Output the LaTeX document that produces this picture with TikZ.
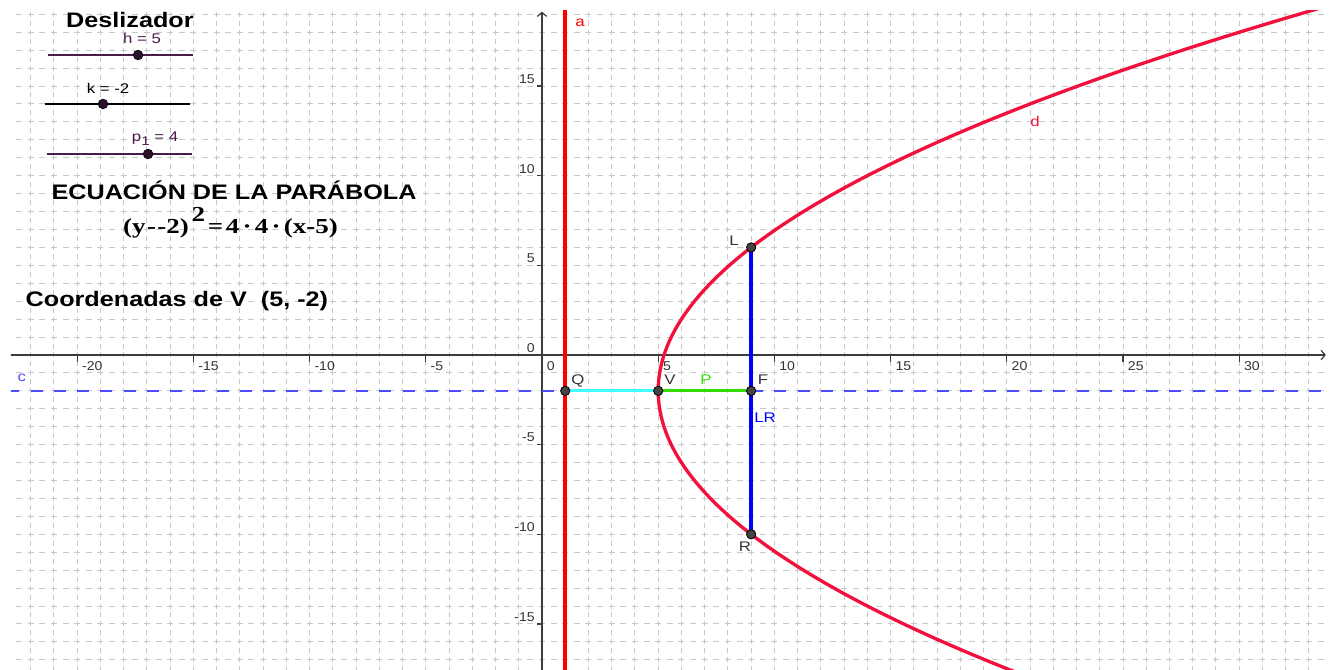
\documentclass[tikz,border=0pt]{standalone}
\usepackage{fontspec}
\setmainfont{Liberation Sans}
\newfontfamily\eqfont{Liberation Serif}
\usetikzlibrary{arrows.meta}
\definecolor{gridgray}{HTML}{C8C8C8}
\definecolor{axisgray}{HTML}{3C3C3C}
\definecolor{labelgray}{HTML}{333333}
\definecolor{pointgray}{HTML}{444444}
\definecolor{linered}{HTML}{FF0000}
\definecolor{curvered}{HTML}{F2103C}
\definecolor{dirblue}{HTML}{4D4DFF}
\definecolor{lrblue}{HTML}{0000FF}
\definecolor{segcyan}{HTML}{40FFFF}
\definecolor{seggreen}{HTML}{33DD00}
\definecolor{slidepurple}{HTML}{4A1A4A}
\newcommand{\wtext}[2][1.2]{\scalebox{#1}[1]{#2}}

\begin{document}
\begin{tikzpicture}[x=17.43pt,y=13.4475pt,every node/.style={inner sep=0pt},
  ticklab/.style={text=labelgray,font=\fontsize{9.6}{11}\selectfont},
  ptlab/.style={text=labelgray,anchor=base,font=\fontsize{10.5}{12}\selectfont},
  slidelab/.style={anchor=base,font=\fontsize{10.5}{12}\selectfont},
  title/.style={anchor=base,font=\fontsize{15.75}{18}\selectfont\bfseries},
  pt/.style={fill=pointgray,draw=black,line width=.6pt},
  gridline/.style={gridgray,line width=.75pt},
  axis/.style={axisgray,line width=.9pt}]
\useasboundingbox (-23.322,-17.513) rectangle (33.864,19.799);
\coordinate (Q) at (1,-2);
\coordinate (V) at (5,-2);
\coordinate (F) at (9,-2);
\coordinate (L) at (9,6);
\coordinate (R) at (9,-10);
\begin{scope}
\clip (-22.85,-17.513) rectangle (33.864,19.24);
\foreach \y in {-17,...,19}{\draw[gridline,dash pattern=on 4.5pt off 4.215pt,dash phase=2.25pt] (-23,\y)--(34,\y);}
\foreach \x in {-22,...,33}{\draw[gridline,dash pattern=on 3.75pt off 2.974pt,dash phase=1.875pt] (\x,-18)--(\x,20);}
\draw[axis,-{Straight Barb[length=3pt,width=7pt]}] (-23,0)--(33.73,0);
\draw[axis,-{Straight Barb[length=3pt,width=7pt]}] (0,-18)--(0,19.15);
\foreach \x in {-20,-15,...,30}{\draw[axis] (\x,0)--(\x,-.37);}
\foreach \y in {-15,-10,...,15}{\draw[axis] (0,\y)--(-.23,\y);}
\draw[dirblue,line width=1.5pt,dash pattern=on 9pt off 8.43pt] (-23,-2)--(34,-2);
\draw[linered,line width=3pt] (1,-18)--(1,20);
\draw[curvered,line width=2.5pt] plot[domain=-18:20,samples=120,smooth] ({5+(\x+2)^2/16},\x);
\draw[segcyan,line width=2.3pt] (Q)--(V);
\draw[seggreen,line width=2.3pt] (V)--(F);
\draw[lrblue,line width=3pt] (L)--(R);
\foreach \n in {Q,V,F,L,R}{\draw[pt] (\n) circle[radius=3.5pt];}
\end{scope}
\foreach \x [count=\i] in {-20,-15,...,30}{\node[ticklab,anchor=base west] (xl\i) at (\x+.2,-.875) {\wtext[1.1]{\x}};}
\foreach \y [count=\i] in {-15,-10,...,15}{\node[ticklab,anchor=base east] (yl\i) at (-.3,\y+.15) {\wtext[1.1]{\y}};}
\node[ptlab] (Qlab) at (1.55,-1.67) {\wtext{Q}};
\node[ptlab] (Vlab) at (5.51,-1.67) {\wtext{V}};
\node[ptlab] (Flab) at (9.51,-1.67) {\wtext{F}};
\node[ptlab] (Llab) at (8.26,6.10) {\wtext{L}};
\node[ptlab] (Rlab) at (8.73,-10.97) {\wtext{R}};
\node[ptlab,text=seggreen] (Plab) at (7.06,-1.67) {\wtext{P}};
\node[ptlab,text=lrblue] (LRlab) at (9.6,-3.79) {\wtext{LR}};
\node[ptlab,text=linered] (alab) at (1.64,18.31) {\wtext{a}};
\node[ptlab,text=dirblue] (clab) at (-22.38,-1.49) {\wtext{c}};
\node[ptlab,text=curvered] (dlab) at (21.21,12.77) {\wtext{d}};
\node[title] (slider) at (-17.73,18.24) {\wtext{Deslizador}};
\coordinate (hA) at (-21.26,16.73);
\coordinate (hB) at (-15.02,16.73);
\coordinate (hP) at (-17.38,16.73);
\coordinate (kA) at (-21.39,14.0);
\coordinate (kB) at (-15.15,14.0);
\coordinate (kP) at (-18.89,14.0);
\coordinate (pA) at (-21.30,11.21);
\coordinate (pB) at (-15.06,11.21);
\coordinate (pP) at (-16.95,11.21);
\draw[slidepurple,line width=1.4pt] (hA)--(hB);
\draw[black,line width=1.4pt] (kA)--(kB);
\draw[slidepurple,line width=1.4pt] (pA)--(pB);
\foreach \n in {hP,kP,pP}{\fill[slidepurple!60!black,draw=black,line width=.5pt] (\n) circle[radius=3.6pt];}
\node[slidelab,text=slidepurple] (hlab) at (-17.21,17.40) {\wtext{h = 5}};
\node[slidelab] (klab) at (-18.67,14.61) {\wtext{k = -2}};
\node[slidelab,text=slidepurple] (plab) at (-16.65,11.88) {\wtext{p\raisebox{-3pt}{\fontsize{9.5}{10}\selectfont 1} = 4}};
\node[title] (ectitle) at (-13.25,8.645) {\wtext{ECUACIÓN DE LA PARÁBOLA}};
\node[anchor=base] (eq) at (-13.40,6.75) {\resizebox{161pt}{\height}{\eqfont\bfseries\fontsize{16}{18}\selectfont (y\hspace{.05em}-\hspace{.05em}-2)\hspace{.1em}\raisebox{.6em}{2}\hspace{.1em}=\hspace{.1em}4\hspace{.12em}·\hspace{.12em}4\hspace{.12em}·\hspace{.12em}(x-5)}};
\node[title] (coord) at (-15.71,2.68) {\wtext{Coordenadas de V~~(5, -2)}};
\end{tikzpicture}
\end{document}
